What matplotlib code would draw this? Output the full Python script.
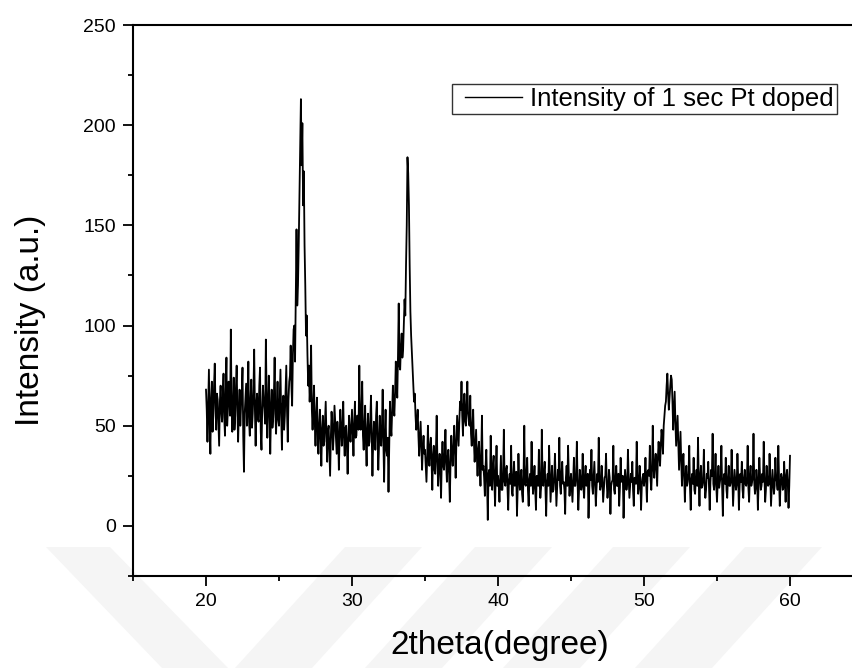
import numpy as np
import matplotlib
matplotlib.use("Agg")
import matplotlib.pyplot as plt
from matplotlib.ticker import MultipleLocator
from matplotlib.lines import Line2D
from matplotlib.legend_handler import HandlerLine2D
from matplotlib.patches import Polygon

plt.rcParams['font.family'] = ['Liberation Sans', 'DejaVu Sans']

# 2theta grid (start, step) and intensity values
theta_start, theta_step = 20.0, 0.05

seg_20_25 = [68, 58, 42, 61, 78, 50, 36, 64, 72, 47, 55, 70, 81, 60, 48, 66, 63, 52, 40, 62,
             70, 57, 52, 65, 76, 54, 45, 67, 84, 50, 58, 72, 66, 55, 98, 62, 47, 59, 74, 48,
             55, 69, 80, 58, 42, 57, 68, 50, 60, 66, 79, 45, 27, 56, 64, 71, 50, 60, 82, 52,
             45, 63, 73, 49, 56, 67, 88, 58, 40, 61, 66, 54, 52, 70, 79, 47, 38, 58, 70, 63,
             58, 51, 93, 66, 44, 57, 75, 62, 36, 55, 68, 49, 54, 65, 84, 56, 46, 60, 72, 53]
seg_25_30 = [50, 64, 78, 55, 38, 60, 65, 48, 55, 68, 80, 57, 42, 63, 72, 75, 90, 70, 60, 85,
             98, 100, 82, 115, 148, 110, 120, 140, 165, 190, 213, 180, 201, 160, 177, 140, 120, 95, 105, 85,
             70, 80, 62, 72, 90, 58, 48, 60, 70, 52, 40, 55, 64, 46, 36, 50, 58, 44, 30, 48,
             55, 40, 42, 52, 62, 45, 32, 47, 50, 38, 25, 44, 57, 50, 38, 46, 60, 52, 44, 36,
             52, 45, 28, 42, 58, 50, 40, 48, 62, 44, 35, 49, 50, 40, 26, 43, 55, 47, 42, 50]
seg_30_35 = [58, 46, 35, 50, 62, 44, 45, 55, 55, 48, 80, 52, 48, 58, 72, 45, 38, 50, 60, 42,
             30, 48, 56, 40, 42, 52, 65, 46, 25, 42, 52, 47, 38, 55, 62, 44, 28, 40, 55, 46,
             40, 50, 68, 42, 22, 45, 58, 38, 35, 44, 17, 40, 62, 50, 45, 58, 70, 60, 55, 66,
             82, 72, 64, 85, 111, 80, 78, 90, 96, 84, 88, 100, 113, 105, 130, 150, 184, 176, 160, 130,
             107, 95, 87, 80, 72, 62, 66, 55, 48, 52, 58, 45, 35, 44, 52, 40, 28, 38, 45, 36]
seg_35_40 = [38, 30, 22, 34, 50, 36, 30, 40, 44, 32, 18, 35, 40, 28, 26, 38, 55, 32, 20, 30,
             36, 27, 14, 33, 42, 30, 28, 36, 48, 31, 22, 34, 38, 26, 12, 32, 45, 35, 30, 40,
             50, 38, 24, 42, 55, 48, 40, 52, 62, 58, 72, 55, 45, 60, 66, 52, 50, 62, 72, 56,
             52, 50, 65, 46, 40, 50, 58, 42, 32, 40, 48, 35, 25, 38, 42, 30, 20, 34, 55, 28,
             30, 24, 15, 30, 38, 22, 3, 26, 28, 20, 45, 25, 18, 30, 35, 22, 10, 27, 40, 20]
seg_40_45 = [25, 20, 12, 24, 35, 18, 18, 26, 48, 22, 20, 28, 30, 19, 8, 23, 26, 21, 40, 17,
             15, 25, 32, 20, 22, 27, 5, 19, 36, 24, 18, 22, 28, 16, 12, 25, 50, 21, 20, 26,
             34, 18, 10, 23, 26, 20, 42, 24, 16, 22, 30, 18, 8, 25, 24, 20, 38, 23, 14, 19,
             48, 24, 20, 27, 32, 18, 5, 22, 26, 20, 40, 25, 12, 21, 30, 17, 18, 24, 36, 22,
             10, 19, 28, 23, 44, 20, 16, 26, 32, 21, 22, 18, 6, 24, 30, 20, 40, 25, 15, 22]
seg_45_50 = [26, 19, 12, 23, 34, 20, 20, 25, 42, 22, 8, 18, 28, 24, 18, 21, 36, 19, 14, 25,
             30, 20, 22, 26, 4, 18, 28, 23, 38, 20, 16, 24, 32, 21, 10, 19, 26, 22, 44, 25,
             18, 20, 30, 23, 12, 18, 24, 25, 36, 21, 14, 19, 28, 24, 6, 20, 22, 23, 40, 18,
             16, 24, 30, 20, 20, 26, 10, 19, 34, 22, 24, 25, 4, 18, 28, 23, 18, 21, 38, 24,
             14, 20, 26, 22, 32, 18, 10, 24, 24, 21, 42, 26, 16, 19, 30, 23, 8, 20, 24, 26]
seg_50_55 = [20, 24, 34, 22, 12, 27, 28, 25, 40, 23, 18, 28, 50, 30, 24, 32, 36, 28, 20, 34,
             42, 35, 30, 40, 48, 44, 36, 50, 55, 60, 62, 70, 76, 66, 58, 64, 70, 75, 73, 62,
             48, 58, 67, 52, 40, 48, 55, 42, 28, 38, 47, 32, 20, 30, 36, 25, 12, 24, 30, 20,
             22, 26, 40, 19, 8, 23, 26, 21, 34, 18, 16, 24, 28, 20, 44, 22, 10, 25, 30, 19,
             20, 23, 38, 21, 14, 18, 26, 24, 32, 20, 8, 22, 28, 25, 46, 21, 18, 24, 36, 20]
seg_55_60 = [12, 22, 30, 19, 22, 25, 40, 20, 5, 23, 26, 21, 34, 18, 14, 24, 30, 20, 20, 22,
             38, 25, 10, 19, 28, 23, 18, 21, 36, 24, 8, 20, 26, 22, 32, 18, 14, 24, 28, 21,
             20, 23, 40, 19, 12, 25, 30, 20, 22, 24, 46, 22, 16, 19, 28, 23, 8, 21, 34, 25,
             18, 20, 26, 22, 42, 24, 12, 18, 30, 23, 20, 21, 36, 24, 10, 19, 28, 22, 16, 20,
             34, 24, 22, 18, 40, 23, 10, 20, 26, 24, 18, 19, 32, 22, 12, 25, 28, 21, 9, 20, 35]

intensity = (seg_20_25 + seg_25_30 + seg_30_35 + seg_35_40 +
             seg_40_45 + seg_45_50 + seg_50_55 + seg_55_60)
two_theta = [round(theta_start + i * theta_step, 3) for i in range(len(intensity))]

x_ticks = [20, 30, 40, 50, 60]
y_ticks = [0, 50, 100, 150, 200, 250]
series_label = "Intensity of 1 sec Pt doped"

W, H = 853, 668
fig = plt.figure(figsize=(W / 100, H / 100), dpi=100)

# faint background watermark stripes (figure pixel coordinates)
wm_color = '#f5f5f5'
wm_shapes = [
    [(46, 547), (110, 547), (228, 668), (162, 668)],
    [(345, 547), (422, 547), (312, 668), (235, 668)],
    [(475, 547), (552, 547), (442, 668), (365, 668)],
    [(613, 547), (690, 547), (580, 668), (503, 668)],
    [(745, 547), (822, 547), (712, 668), (635, 668)],
]
for shp in wm_shapes:
    pts = [(px / W, 1 - py / H) for px, py in shp]
    fig.patches.append(Polygon(pts, closed=True, transform=fig.transFigure,
                               facecolor=wm_color, edgecolor='none', zorder=-5))

ax = fig.add_axes([133 / W, 1 - 576 / H, 730 / W, 551 / H])
ax.set_facecolor('none')

ax.plot(two_theta, intensity, color='black', linewidth=1.3, label=series_label)

ax.set_xlim(15, 65)
ax.set_ylim(-25, 250)
ax.set_xticks(x_ticks)
ax.set_yticks(y_ticks)
ax.xaxis.set_minor_locator(MultipleLocator(5))
ax.yaxis.set_minor_locator(MultipleLocator(25))

for s in ax.spines.values():
    s.set_linewidth(1.5)

ax.tick_params(which='major', direction='out', length=7, width=1.3,
               labelsize=14, pad=5.5)
ax.tick_params(which='minor', direction='out', length=3.5, width=1.3)

leg = ax.legend(loc='upper right', bbox_to_anchor=(0.964, 0.8935),
                borderaxespad=0, fancybox=False, frameon=True,
                edgecolor='black', fontsize=18.5, handlelength=2.6,
                handletextpad=0.31, borderpad=0.12,
                handler_map={Line2D: HandlerLine2D(xpad=0.39)})
leg.get_frame().set_linewidth(1.0)
for l in leg.get_lines():
    l.set_linewidth(1.0)

fig.text(31 / W, 1 - 320 / H, "Intensity (a.u.)", rotation=90,
         ha='center', va='center', fontsize=24)
fig.text(500 / W, 1 - 645.5 / H, "2theta(degree)",
         ha='center', va='center', fontsize=24)

fig.savefig("out.png", dpi=100)
